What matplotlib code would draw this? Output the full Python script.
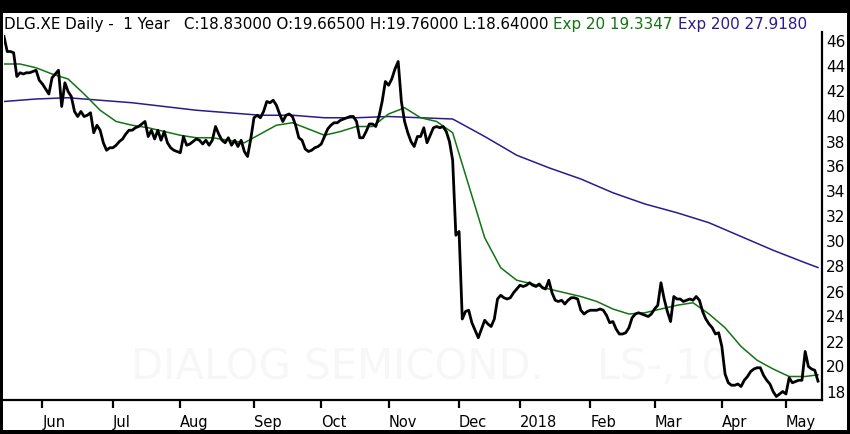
import numpy as np
import pandas as pd
import matplotlib
matplotlib.use("Agg")
from matplotlib import pyplot as plt
from matplotlib.patches import Rectangle

plt.rcParams["font.family"] = ["DejaVu Sans"]

# trading calendar (Xetra holidays inside the window)
holidays = ["2017-10-31", "2017-12-25", "2017-12-26", "2018-01-01",
            "2018-03-30", "2018-04-02", "2018-05-01"]
dates = pd.bdate_range("2017-05-16", "2018-05-16", freq="C", holidays=holidays)

# daily closes
close = [
    46.4, 45.2, 45.2, 45.1, 43.2, 43.5, 43.4, 43.5, 43.5, 43.6,
    43.7, 42.9, 42.6, 42.2, 41.8, 43.1, 43.4, 43.7, 40.8, 42.7,
    42.0, 41.6, 40.4, 40.0, 40.4, 40.0, 40.1, 40.3, 38.7, 39.3,
    38.9, 37.9, 37.3, 37.5, 37.5, 37.7, 38.0, 38.2, 38.6, 38.9,
    38.9, 39.1, 39.2, 39.4, 39.6, 38.4, 38.9, 38.2, 38.9, 38.1,
    38.8, 37.9, 37.5, 37.3, 37.2, 37.1, 38.4, 37.7, 37.8, 38.0,
    38.2, 38.1, 37.8, 38.1, 37.7, 38.1, 39.2, 38.6, 38.1, 37.9,
    38.3, 37.7, 38.1, 37.6, 38.1, 37.2, 36.8, 38.2, 39.9, 40.1,
    39.9, 40.4, 41.2, 41.1, 41.3, 40.9, 40.2, 39.6, 40.1, 40.2,
    40.0, 39.3, 38.3, 38.1, 37.4, 37.2, 37.3, 37.5, 37.6, 37.8,
    38.4, 39.0, 39.3, 39.5, 39.5, 39.7, 39.8, 39.9, 40.0, 40.0,
    39.6, 38.3, 38.3, 38.8, 39.4, 39.4, 39.2, 40.0, 41.2, 42.8,
    42.5, 43.0, 43.8, 44.4, 41.2, 39.6, 38.7, 38.0, 37.6, 38.4,
    38.4, 39.1, 37.9, 38.5, 39.1, 39.2, 39.1, 39.2, 38.8, 38.0,
    36.5, 30.5, 30.8, 23.8, 24.4, 24.5, 23.5, 22.9, 22.3, 23.0,
    23.7, 23.4, 23.2, 23.8, 25.4, 25.7, 25.5, 25.4, 25.5, 25.9,
    26.2, 26.5, 26.4, 26.5, 26.7, 26.5, 26.4, 26.6, 26.3, 26.2,
    26.9, 25.9, 25.3, 25.2, 25.3, 25.0, 25.3, 25.5, 25.5, 25.4,
    24.5, 24.2, 24.4, 24.5, 24.5, 24.5, 24.6, 24.5, 24.1, 23.5,
    23.6, 23.0, 22.6, 22.6, 22.7, 23.1, 23.9, 24.2, 24.3, 24.2,
    24.1, 24.0, 24.2, 24.6, 24.9, 26.7, 25.4, 24.4, 23.6, 25.6,
    25.4, 25.4, 25.2, 25.3, 25.4, 25.3, 25.6, 25.3, 24.4, 23.8,
    23.4, 23.1, 22.6, 22.7, 21.6, 19.4, 18.7, 18.5, 18.5, 18.6,
    18.4, 18.9, 19.2, 19.6, 19.8, 19.9, 19.9, 19.3, 18.9, 18.6,
    18.0, 17.6, 17.8, 18.0, 17.8, 19.1, 18.7, 18.8, 18.9, 18.9,
    21.2, 20.0, 19.8, 19.7, 18.83,
]

# exponential averages, read every 5th / 10th session (plus the last one)
ema20 = [
    44.2, 44.2, 43.9, 43.4, 43.0, 41.8, 40.5, 39.6, 39.3, 39.1,
    38.8, 38.5, 38.3, 38.3, 38.1, 37.9, 38.6, 39.3, 39.5, 39.0,
    38.5, 38.8, 39.2, 39.2, 40.2, 40.7, 39.9, 39.6, 38.7, 34.5,
    30.3, 27.9, 26.9, 26.6, 26.2, 25.9, 25.6, 25.2, 24.6, 24.2,
    24.3, 24.6, 24.9, 25.1, 24.2, 23.1, 21.6, 20.5, 19.8, 19.2,
    19.2, 19.3347,
]
ema200 = [
    41.2, 41.4, 41.5, 41.3, 41.1, 40.8, 40.5, 40.3, 40.1, 40.1,
    39.9, 39.9, 40.0, 39.9, 39.8, 38.4, 36.9, 35.9, 35.0, 33.9,
    33.0, 32.3, 31.5, 30.4, 29.3, 28.3, 27.918,
]

month_labels = ["Jun", "Jul", "Aug", "Sep", "Oct", "Nov", "Dec",
                "2018", "Feb", "Mar", "Apr", "May"]
header = "DLG.XE Daily -  1 Year   C:18.83000 O:19.66500 H:19.76000 L:18.64000 "
ema20_label = "Exp 20 19.3347 "
ema200_label = "Exp 200 27.9180"
watermark = "DIALOG SEMICOND.    LS-,10"

GREEN = "#127412"
PURPLE = "#2b1a8e"

n = len(close)
dates = dates[:n]
idx = np.arange(n)
idx20 = np.r_[np.arange(0, n - 1, 5), n - 1]
idx200 = np.r_[np.arange(0, n - 1, 10), n - 1]

W, H = 850, 434
fig = plt.figure(figsize=(W / 100, H / 100), dpi=100, facecolor="black")
fig.patches.append(Rectangle((3 / W, 4 / H), 844 / W, 417 / H,
                             transform=fig.transFigure, facecolor="white",
                             edgecolor="none", zorder=-5))

ax = fig.add_axes([4 / W, 34 / H, 818 / W, 368 / H])
ax.set_facecolor("white")

ax.text(0.52, 0.09, watermark, transform=ax.transAxes, ha="center", va="center",
        fontsize=30, color="#f7f7f7", zorder=0)

ax.plot(idx200, ema200, color=PURPLE, lw=1.1, zorder=2)
ax.plot(idx20, ema20, color=GREEN, lw=1.1, zorder=3)
ax.plot(idx, close, color="black", lw=2.0, zorder=4, solid_joinstyle="round")

ax.set_xlim(0, n - 1 + 1.25)
ax.set_ylim(17.32, 46.76)

# month ticks at first session of each month
s = pd.Series(idx, index=dates)
firsts = s.groupby([dates.year, dates.month]).first().values[1:]
ax.set_xticks(firsts)
ax.set_xticklabels(month_labels[:len(firsts)])
for lab in ax.get_xticklabels():
    lab.set_ha("left")
ax.tick_params(axis="x", direction="out", length=6, width=1.6, pad=5,
               labelsize=10.5, colors="black")

ax.set_yticks(np.arange(18, 47, 2))
ax.yaxis.tick_right()
ax.tick_params(axis="y", length=0, pad=3, labelsize=11)

for side in ["top", "left"]:
    ax.spines[side].set_visible(False)
for side in ["bottom", "right"]:
    ax.spines[side].set_linewidth(1.6)

# header line, three coloured parts laid end to end
fig.canvas.draw()
r = fig.canvas.get_renderer()
x0 = 4 / W
for txt, col in [(header, "black"), (ema20_label, GREEN), (ema200_label, PURPLE)]:
    t = fig.text(x0, 1 - 24 / H, txt, color=col, fontsize=10.9, va="center", ha="left")
    bb = t.get_window_extent(renderer=r)
    x0 = bb.x1 / W

fig.savefig("out.png", dpi=100, facecolor="black")
